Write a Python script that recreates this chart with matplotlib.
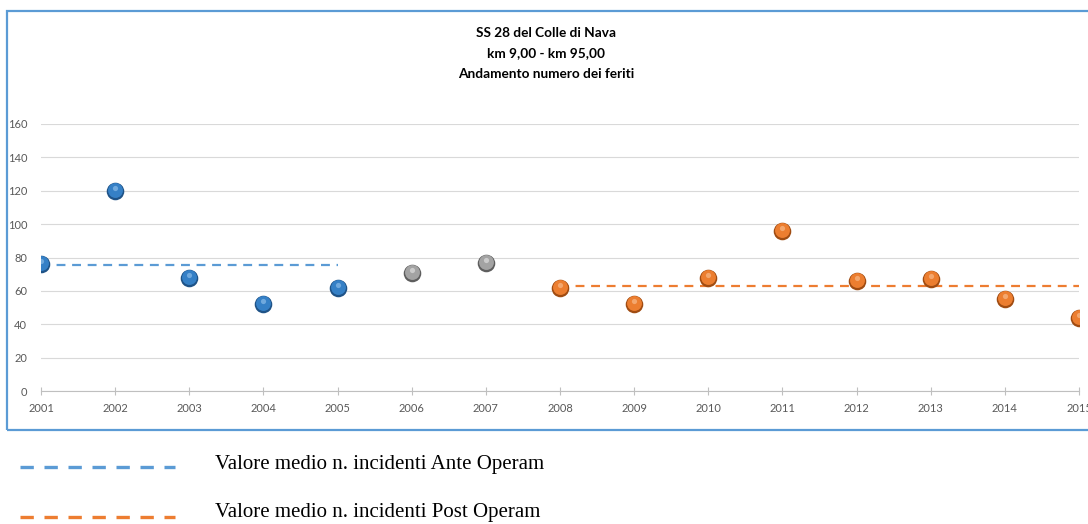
import matplotlib.pyplot as plt
from matplotlib.patches import Rectangle
from matplotlib.lines import Line2D

years_ante = [2001, 2002, 2003, 2004, 2005]
feriti_ante = [76, 120, 68, 52, 62]
years_mid = [2006, 2007]
feriti_mid = [71, 77]
years_post = [2008, 2009, 2010, 2011, 2012, 2013, 2014, 2015]
feriti_post = [62, 52, 68, 96, 66, 67, 55, 44]
media_ante = sum(feriti_ante) / len(feriti_ante)
media_post = 63

title_lines = ["SS 28 del Colle di Nava", "km 9,00 - km 95,00", "Andamento numero dei feriti"]
legend_labels = ["Valore medio n. incidenti Ante Operam", "Valore medio n. incidenti Post Operam"]

blue, blue_dark, blue_light = "#3580c6", "#1f5387", "#7fb4e4"
gray, gray_dark, gray_light = "#a3a3a3", "#5e5e5e", "#d6d6d6"
orange, orange_dark, orange_light = "#ec7e30", "#a04c12", "#f6b27e"

fig = plt.figure(figsize=(10.88, 5.24), dpi=100)

# chart frame
fig.patches.append(Rectangle((7 / 1088, 1 - 430 / 524), 1.0, (430 - 11) / 524,
                             transform=fig.transFigure, fill=False,
                             edgecolor="#5b9bd5", linewidth=1.6))

ax = fig.add_axes([41 / 1088, 1 - 391 / 524, (1079 - 41) / 1088, (391 - 124) / 524])
ax.set_xlim(2001, 2015)
ax.set_ylim(0, 160)
ax.set_yticks(range(0, 161, 20))
ax.set_xticks(range(2001, 2016))
ax.grid(axis="y", color="#d9d9d9", linewidth=0.8)
ax.set_axisbelow(True)
for s in ["top", "right", "left"]:
    ax.spines[s].set_visible(False)
ax.spines["bottom"].set_color("#bfbfbf")
ax.tick_params(axis="y", length=0, labelsize=8, labelcolor="#595959", pad=10)
ax.tick_params(axis="x", direction="inout", length=6, color="#bfbfbf",
               labelsize=8, labelcolor="#595959", pad=6)
for lab in ax.get_xticklabels() + ax.get_yticklabels():
    lab.set_family(["Lato", "DejaVu Sans"])

# mean lines
ax.plot([years_ante[0], years_ante[-1]], [media_ante, media_ante], color="#5b9bd5",
        linewidth=1.6, dashes=(4, 3), zorder=2)
ax.plot([years_post[0], years_post[-1]], [media_post, media_post], color="#ed7d31",
        linewidth=1.6, dashes=(4, 3), zorder=2)

# sphere-like markers
for xs, ys, c, cd, cl in [(years_ante, feriti_ante, blue, blue_dark, blue_light),
                          (years_mid, feriti_mid, gray, gray_dark, gray_light),
                          (years_post, feriti_post, orange, orange_dark, orange_light)]:
    ax.scatter(xs, ys, s=160, color=cd, zorder=3, linewidths=0)
    ax.scatter(xs, [y + 0.5 for y in ys], s=115, color=c, zorder=4, linewidths=0)
    ax.scatter(xs, [y + 1.8 for y in ys], s=14, color=cl, zorder=5, linewidths=0, alpha=0.8)

# title
for i, t in enumerate(title_lines):
    fig.text(0.502, 1 - (33 + 20.5 * i) / 524, t, ha="center", va="center",
             fontsize=9.8, fontweight="bold", family=["Lato", "DejaVu Sans"])

# legend below the chart
for i, (lab, col) in enumerate(zip(legend_labels, ["#5b9bd5", "#ed7d31"])):
    yl = 1 - (467 + 50 * i) / 524
    yt = 1 - (465 + 48 * i) / 524
    fig.lines.append(Line2D([20 / 1088, 175 / 1088], [yl, yl], transform=fig.transFigure,
                            color=col, linewidth=2.4, dashes=(4, 3.2)))
    fig.text(215 / 1088, yt, lab, ha="left", va="center", fontsize=15,
             family=["Liberation Serif", "DejaVu Serif"])

fig.savefig("out.png", dpi=100)
